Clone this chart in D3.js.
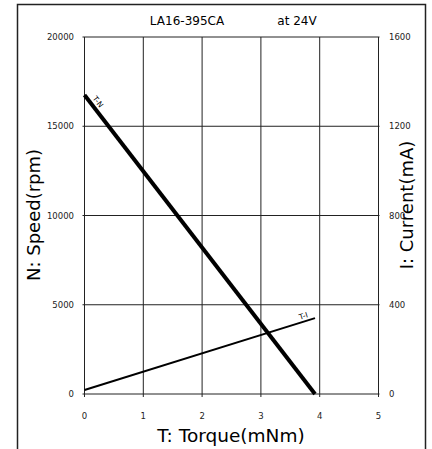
<!DOCTYPE html>
<html>
<head>
<meta charset="utf-8">
<script src="https://cdn.jsdelivr.net/npm/d3@7/dist/d3.min.js"></script>
<style>
  body { margin: 0; background: #fff; }
  svg { display: block; font-family: "DejaVu Sans", "Liberation Sans", sans-serif; }
</style>
</head>
<body>
<svg id="chart" width="432" height="449"></svg>
<script>
// torque (mNm) vs speed (rpm) and current (mA)
const tnTorque = [0, 3.92];
const tnSpeed = [16750, 0];
const tiTorque = [0, 3.92];
const tiCurrent = [18, 340];

const xTicks = [0, 1, 2, 3, 4, 5];
const speedTicks = [0, 5000, 10000, 15000, 20000];
const currentTicks = [0, 400, 800, 1200, 1600];

const title = "LA16-395CA";
const subtitle = "at 24V";

const plot = {left: 84.5, right: 378.5, top: 37, bottom: 394};

const svg = d3.select('#chart');

// outer frame, runs off the bottom of the picture
svg.append('path')
  .attr('d', 'M17.5,460 V4.5 H425.5 V460')
  .attr('fill', 'none')
  .attr('stroke', '#222')
  .attr('stroke-width', 1.5);

const x = d3.scaleLinear().domain([0, 5]).range([plot.left, plot.right]);
const ySpeed = d3.scaleLinear().domain([0, 20000]).range([plot.bottom, plot.top]);
const yCurrent = d3.scaleLinear().domain([0, 1600]).range([plot.bottom, plot.top]);

// grid
svg.append('g')
  .selectAll('line')
  .data(xTicks)
  .enter().append('line')
  .attr('x1', d => x(d)).attr('x2', d => x(d))
  .attr('y1', plot.top).attr('y2', plot.bottom + 3)
  .attr('stroke', '#222').attr('stroke-width', 1);

svg.append('g')
  .selectAll('line')
  .data(speedTicks)
  .enter().append('line')
  .attr('x1', plot.left - 2).attr('x2', plot.right + 1)
  .attr('y1', d => ySpeed(d)).attr('y2', d => ySpeed(d))
  .attr('stroke', '#222').attr('stroke-width', 1);

// tick labels
svg.append('g')
  .selectAll('text')
  .data(xTicks)
  .enter().append('text')
  .text(d => d)
  .attr('x', d => x(d))
  .attr('y', 419)
  .attr('text-anchor', 'middle')
  .attr('font-size', '8.5px')
  .attr('fill', '#222');

svg.append('g')
  .selectAll('text')
  .data(speedTicks)
  .enter().append('text')
  .text(d => d)
  .attr('x', 74)
  .attr('y', d => ySpeed(d) + 3)
  .attr('text-anchor', 'end')
  .attr('font-size', '8.5px')
  .attr('fill', '#222');

svg.append('g')
  .selectAll('text')
  .data(currentTicks)
  .enter().append('text')
  .text(d => d)
  .attr('x', 389)
  .attr('y', d => yCurrent(d) + 3)
  .attr('text-anchor', 'start')
  .attr('font-size', '8.5px')
  .attr('fill', '#222');

// lines
const tnLine = d3.line().x(d => x(d[0])).y(d => ySpeed(d[1]));
const tiLine = d3.line().x(d => x(d[0])).y(d => yCurrent(d[1]));

svg.append('path')
  .datum(d3.zip(tiTorque, tiCurrent))
  .attr('d', tiLine)
  .attr('fill', 'none')
  .attr('stroke', '#000')
  .attr('stroke-width', 2);

svg.append('path')
  .datum(d3.zip(tnTorque, tnSpeed))
  .attr('d', tnLine)
  .attr('fill', 'none')
  .attr('stroke', '#000')
  .attr('stroke-width', 4);

// line labels, sitting just above their lines
const tnAngle = Math.atan2(ySpeed(tnSpeed[1]) - ySpeed(tnSpeed[0]), x(tnTorque[1]) - x(tnTorque[0])) * 180 / Math.PI;
svg.append('text')
  .text('T-N')
  .attr('transform', `translate(${x(0.14)},${ySpeed(16750 - 0.14 * 16750 / 3.92)}) rotate(${tnAngle})`)
  .attr('y', -4)
  .attr('text-anchor', 'middle')
  .attr('font-size', '7.5px');

const tiAngle = Math.atan2(yCurrent(tiCurrent[1]) - yCurrent(tiCurrent[0]), x(tiTorque[1]) - x(tiTorque[0])) * 180 / Math.PI;
svg.append('text')
  .text('T-I')
  .attr('transform', `translate(${x(3.75)},${yCurrent(18 + 3.75 * 322 / 3.92)}) rotate(${tiAngle})`)
  .attr('y', -3)
  .attr('text-anchor', 'middle')
  .attr('font-size', '7.5px');

// titles
svg.append('text')
  .text(title)
  .attr('x', 187).attr('y', 25)
  .attr('text-anchor', 'middle')
  .attr('font-size', '12px');

svg.append('text')
  .text(subtitle)
  .attr('x', 297).attr('y', 25)
  .attr('text-anchor', 'middle')
  .attr('font-size', '12px');

svg.append('text')
  .text('T: Torque(mNm)')
  .attr('x', 231).attr('y', 442)
  .attr('text-anchor', 'middle')
  .attr('font-size', '18.5px');

svg.append('text')
  .text('N: Speed(rpm)')
  .attr('transform', `translate(40,215) rotate(-90)`)
  .attr('text-anchor', 'middle')
  .attr('font-size', '18px');

svg.append('text')
  .text('I: Current(mA)')
  .attr('transform', `translate(413,205) rotate(-90)`)
  .attr('text-anchor', 'middle')
  .attr('font-size', '18px');
</script>
</body>
</html>
